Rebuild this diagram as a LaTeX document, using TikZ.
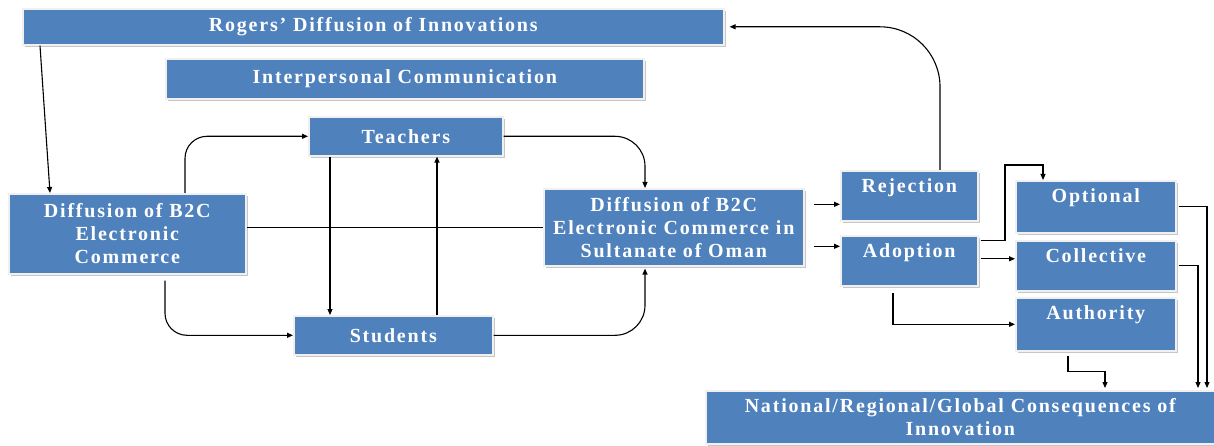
\documentclass[tikz,border=0pt]{standalone}
\usepackage{fontspec}
\setmainfont{Liberation Serif}[LetterSpace=9]
\usetikzlibrary{arrows.meta,shadows,calc}
\definecolor{boxblue}{HTML}{4F81BD}
\tikzset{
  box/.style={rectangle, anchor=north west, fill=boxblue, draw=gray!12, line width=1.6pt,
    text=white, font=\bfseries\fontsize{20}{23}\selectfont, align=center, inner sep=2pt,
    drop shadow={shadow xshift=2.5pt, shadow yshift=-2.5pt, fill=gray!45, opacity=1}},
  toptxt/.style={anchor=north, text=white, font=\bfseries\fontsize{20}{23}\selectfont, inner sep=0pt, yshift=-8pt},
  arr/.style={-{Triangle[length=6pt,width=5pt]}, line width=1.1pt, black},
  ln/.style={line width=1.1pt, black}
}
\begin{document}
\begin{tikzpicture}[x=1pt,y=-1pt]
\useasboundingbox (0,0) rectangle (1214,446);
% boxes
\node[box, minimum width=701pt, minimum height=36pt] (rog) at (22,8) {Rogers' Diffusion of Innovations};
\node[box, minimum width=478pt, minimum height=40pt] (int) at (165,58) {Interpersonal Communication};
\node[box, minimum width=194pt, minimum height=39pt] (tea) at (308,116) {Teachers};
\node[box, minimum width=237pt, minimum height=80pt] (dl) at (8,193) {Diffusion of B2C\\Electronic\\Commerce};
\node[box, minimum width=199pt, minimum height=39pt] (stu) at (293,315) {Students};
\node[box, minimum width=260pt, minimum height=77pt] (dc) at (543,188) {Diffusion of B2C\\Electronic Commerce in\\Sultanate of Oman};
\node[box, minimum width=137pt, minimum height=50pt, label={[toptxt]north:Rejection}] (rej) at (840,170) {};
\node[box, minimum width=137pt, minimum height=50pt, label={[toptxt]north:Adoption}] (ado) at (840,235) {};
\node[box, minimum width=160pt, minimum height=52pt, label={[toptxt]north:Optional}] (opt) at (1015,180) {};
\node[box, minimum width=160pt, minimum height=50pt, label={[toptxt]north:Collective}] (col) at (1015,240) {};
\node[box, minimum width=160pt, minimum height=53pt, label={[toptxt]north:Authority}] (aut) at (1015,297) {};
\node[box, minimum width=509pt, minimum height=53pt] (nat) at (705,390) {National/Regional/Global Consequences of\\Innovation};
% helper coordinates
\coordinate (r1) at ([xshift=18pt]rog.south west);
\coordinate (l1) at ([xshift=42pt]dl.north west);
\coordinate (j1) at ([xshift=100pt]rej.north west);
\coordinate (l2) at ([xshift=177pt]dl.north west);
\coordinate (l3) at ([xshift=157pt,yshift=-6pt]dl.south west);
\coordinate (t1) at ([xshift=22pt]tea.south west);
\coordinate (s1) at ([xshift=144pt]stu.north west);
\coordinate (d1) at ([xshift=102pt]dc.north west);
\coordinate (d2) at ([xshift=102pt,yshift=-2pt]dc.south west);
\coordinate (e1) at ([xshift=9pt,yshift=23pt]dc.east);
\coordinate (e2) at ([xshift=9pt,yshift=-19pt]dc.east);
\coordinate (a1) at ([xshift=2pt,yshift=20pt]ado.east);
\coordinate (o1) at ([xshift=-10pt,yshift=15pt]opt.north west);
\coordinate (o2) at ([xshift=28pt]opt.north west);
\coordinate (a2) at ([xshift=2pt,yshift=2pt]ado.east);
\coordinate (a3) at ([xshift=53pt,yshift=-6pt]ado.south west);
\coordinate (u1) at ([xshift=53pt,yshift=-4pt]aut.south west);
\coordinate (n1) at ([xshift=400pt,yshift=2pt]nat.north west);
\coordinate (n2) at ([xshift=493pt,yshift=2pt]nat.north west);
\coordinate (n3) at ([xshift=502pt,yshift=2pt]nat.north west);
% connectors
\draw[arr] (r1) -- (l1);
\draw[arr, rounded corners=60pt] (j1) |- ([xshift=5pt]rog.east);
\draw[arr, rounded corners=22pt] (l2) |- (tea.west);
\draw[arr, rounded corners=22pt] (l3) |- (stu.west);
\draw[arr] (t1) -- (t1 |- stu.north);
\draw[arr] (s1) -- (s1 |- tea.south);
\draw[arr, rounded corners=30pt] (tea.east) -| (d1);
\draw[arr, rounded corners=30pt] (stu.east) -| (d2);
\draw[ln] (dc.west -| dl.east) -- (dc.west);
\draw[arr] (e1) -- (e1 -| rej.west);
\draw[arr] (e2) -- (e2 -| ado.west);
\draw[arr] (a1) -| (o1) -| (o2);
\draw[arr] (a2) -- (a2 -| col.west);
\draw[arr] (a3) |- (aut.west);
\draw[arr] (u1) |- ($(u1)!.5!(n1)$) -| (n1);
\draw[arr] ([xshift=2pt]col.east) -| (n2);
\draw[arr] ([xshift=2pt]opt.east) -| (n3);
\end{tikzpicture}
\end{document}
